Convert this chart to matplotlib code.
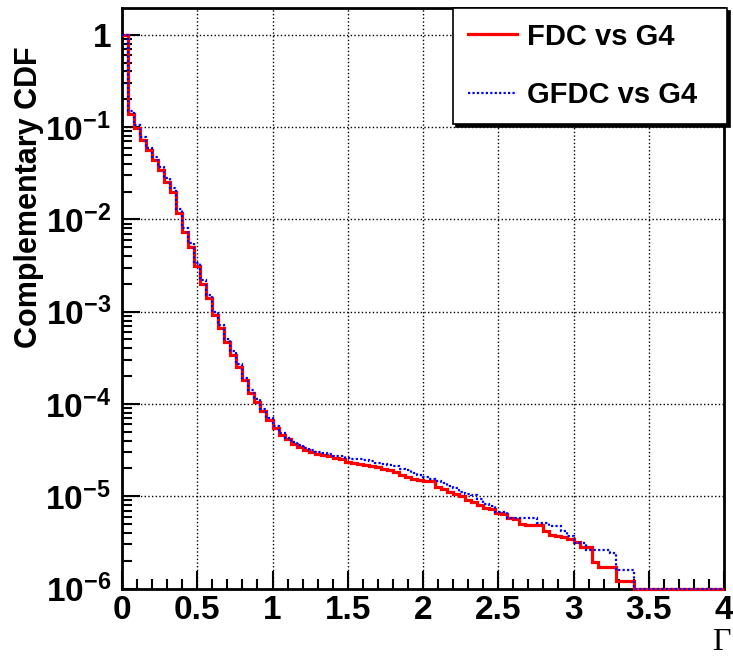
import numpy as np
import matplotlib
matplotlib.use("Agg")
import matplotlib.pyplot as plt
from matplotlib.ticker import MultipleLocator, LogLocator

plt.rcParams['font.family'] = ['Liberation Sans', 'DejaVu Sans']
plt.rcParams['font.weight'] = 'bold'
plt.rcParams['mathtext.fontset'] = 'custom'
plt.rcParams['mathtext.rm'] = 'Liberation Sans:bold'
plt.rcParams['mathtext.it'] = 'Liberation Sans:bold'
plt.rcParams['mathtext.bf'] = 'Liberation Sans:bold'

# 100 bins of width 0.04 between 0 and 4
edges = np.linspace(0, 4, 101)

fdc = [
    1.0, 0.14, 0.097, 0.072, 0.056, 0.044, 0.034, 0.0257, 0.020, 0.0116,
    0.0073, 0.0050, 0.0031, 0.0020, 0.0014, 0.00092, 0.00066, 0.00047, 0.00034, 0.00025,
    1.8e-4, 1.3e-4, 1.05e-4, 8.3e-5, 6.7e-5, 5.5e-5, 4.6e-5, 4.2e-5, 3.7e-5, 3.45e-5,
    3.2e-5, 3.0e-5, 2.9e-5, 2.8e-5, 2.7e-5, 2.6e-5, 2.5e-5, 2.35e-5, 2.3e-5, 2.25e-5,
    2.2e-5, 2.15e-5, 2.05e-5, 1.95e-5, 1.9e-5, 1.85e-5, 1.7e-5, 1.6e-5, 1.55e-5, 1.5e-5,
    1.45e-5, 1.45e-5, 1.25e-5, 1.2e-5, 1.12e-5, 1.05e-5, 1.0e-5, 9.2e-6, 8.7e-6, 8.1e-6,
    7.4e-6, 7.2e-6, 6.5e-6, 6.4e-6, 5.8e-6, 5.7e-6, 5.0e-6, 4.9e-6, 4.9e-6, 4.9e-6,
    4.2e-6, 3.8e-6, 3.7e-6, 3.6e-6, 3.4e-6, 3.2e-6, 2.8e-6, 2.8e-6, 1.95e-6, 1.7e-6,
    1.7e-6, 1.7e-6, 1.2e-6, 1.2e-6, 1.2e-6, 1e-6, 1e-6, 1e-6, 1e-6, 1e-6,
    1e-6, 1e-6, 1e-6, 1e-6, 1e-6, 1e-6, 1e-6, 1e-6, 1e-6, 1e-6,
]

gfdc = [
    1.0, 0.15, 0.105, 0.078, 0.060, 0.047, 0.037, 0.028, 0.022, 0.0128,
    0.0080, 0.0055, 0.0034, 0.0022, 0.0015, 0.0010, 0.00072, 0.00051, 0.00037, 0.00027,
    1.9e-4, 1.4e-4, 1.12e-4, 8.8e-5, 7.0e-5, 5.7e-5, 4.8e-5, 4.3e-5, 3.9e-5, 3.6e-5,
    3.35e-5, 3.15e-5, 3.0e-5, 2.95e-5, 2.85e-5, 2.75e-5, 2.7e-5, 2.6e-5, 2.55e-5, 2.5e-5,
    2.45e-5, 2.4e-5, 2.3e-5, 2.25e-5, 2.2e-5, 2.1e-5, 1.95e-5, 1.9e-5, 1.8e-5, 1.7e-5,
    1.6e-5, 1.55e-5, 1.45e-5, 1.38e-5, 1.3e-5, 1.23e-5, 1.12e-5, 1.05e-5, 1.02e-5, 9.3e-6,
    8.2e-6, 7.8e-6, 6.8e-6, 6.7e-6, 5.8e-6, 5.8e-6, 5.8e-6, 5.8e-6, 5.8e-6, 5.1e-6,
    5.1e-6, 4.8e-6, 4.8e-6, 4.2e-6, 3.7e-6, 3.1e-6, 3.1e-6, 2.6e-6, 2.6e-6, 2.6e-6,
    2.6e-6, 2.4e-6, 1.6e-6, 1.6e-6, 1.6e-6, 1e-6, 1e-6, 1e-6, 1e-6, 1e-6,
    1e-6, 1e-6, 1e-6, 1e-6, 1e-6, 1e-6, 1e-6, 1e-6, 1e-6, 1e-6,
]

xticks = [0, 0.5, 1, 1.5, 2, 2.5, 3, 3.5, 4]
xlabels = ['0', '0.5', '1', '1.5', '2', '2.5', '3', '3.5', '4']
yticks = [1, 1e-1, 1e-2, 1e-3, 1e-4, 1e-5, 1e-6]
ylabels = ['1', r'$10^{-1}$', r'$10^{-2}$', r'$10^{-3}$', r'$10^{-4}$', r'$10^{-5}$', r'$10^{-6}$']

fig = plt.figure(figsize=(7.33, 6.56), dpi=100)
ax = fig.add_axes([122/733, 1 - 588.5/656, 602/733, 580.5/656])

ax.stairs(fdc, edges, baseline=None, color='red', lw=2.3, label='FDC vs G4',
          zorder=3, clip_on=False)
ax.stairs(gfdc, edges, baseline=None, color='blue', lw=1.6, ls=(0, (1, 1)),
          label='GFDC vs G4', zorder=4, clip_on=False)

ax.set_yscale('log')
ax.set_xlim(0, 4)
ax.set_ylim(1e-6, 1.95)

ax.set_xticks(xticks, labels=xlabels)
ax.set_yticks(yticks, labels=ylabels)
ax.xaxis.set_minor_locator(MultipleLocator(0.1))
ax.yaxis.set_minor_locator(LogLocator(base=10, subs=np.arange(2, 10)))
ax.tick_params(which='both', direction='in', top=False, right=False, width=1.5)
ax.tick_params(which='major', length=13, labelsize=24, pad=8)
ax.tick_params(which='minor', length=7)
ax.tick_params(axis='x', which='major', pad=5)

ax.grid(True, which='major', ls=':', color='black', lw=1.0)
for s in ax.spines.values():
    s.set_linewidth(2)

ax.set_ylabel('Complementary CDF', fontsize=22, fontweight='bold')
ax.yaxis.set_label_coords(-0.13, 0.674)

fig.text(0.997, 1 - 643/656, 'Γ', ha='right', va='center',
         family=['Liberation Serif', 'DejaVu Serif'], fontweight='normal', fontsize=23)

leg = ax.legend(loc='upper left', bbox_to_anchor=(0.55, 0.0, 0.455, 1.0), mode='expand',
                fontsize=21, frameon=True, fancybox=False, edgecolor='black',
                framealpha=1, borderaxespad=0, handlelength=1.7, handletextpad=0.35,
                labelspacing=1.05, borderpad=0.5,
                shadow={'color': 'black', 'alpha': 1})
leg.get_frame().set_linewidth(1.2)
leg.set_zorder(10)

fig.savefig('out.png', dpi=100)
